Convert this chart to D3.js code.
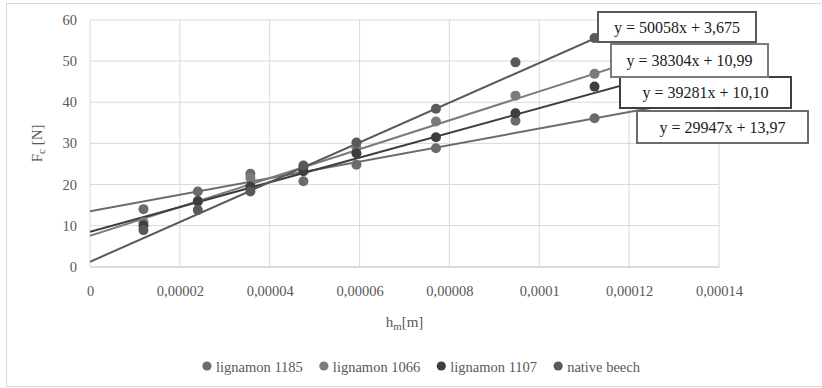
<!DOCTYPE html>
<html>
<head>
<meta charset="utf-8">
<script src="https://cdn.jsdelivr.net/npm/d3@7"></script>
<style>
  body { margin: 0; background: #fff; }
  svg { display: block; font-family: 'Liberation Serif', 'Times New Roman', serif; }
</style>
</head>
<body>
<svg id="chart"></svg>
<script>
'use strict'

// measured points (h_m in m, F_c in N)
const xValues = [0.0000119, 0.000024, 0.0000357, 0.0000475, 0.0000593, 0.000077, 0.0000947, 0.0001123]
const lignamon1185 = [14.0, 18.3, 22.6, 20.8, 24.8, 28.8, 35.5, 36.1]
const lignamon1066 = [10.8, 15.8, 21.6, 24.2, 29.0, 35.3, 41.6, 46.9]
const lignamon1107 = [10.0, 16.0, 19.5, 23.2, 27.6, 31.5, 37.3, 43.8]
const nativeBeech = [8.9, 13.8, 18.3, 24.6, 30.2, 38.4, 49.7, 55.6]

const seriesNames = ['lignamon 1185', 'lignamon 1066', 'lignamon 1107', 'native beech']
const seriesValues = [lignamon1185, lignamon1066, lignamon1107, nativeBeech]
const seriesColors = ['#6b6b6b', '#7b7b7b', '#3e3e3e', '#595959']

// trendlines as drawn: value at x = 0 and at x = 0.0001125
const trendAt0 = [13.5, 7.5, 8.5, 1.2]
const trendAtEnd = [36.1, 47.0, 42.3, 55.6]
const trendEndX = 0.0001125
const forecastTo = 0.00014

const equations = ['y = 29947x + 13,97', 'y = 38304x + 10,99', 'y = 39281x + 10,10', 'y = 50058x + 3,675']

const xTicks = [0, 0.00002, 0.00004, 0.00006, 0.00008, 0.0001, 0.00012, 0.00014]
const yTicks = [0, 10, 20, 30, 40, 50, 60]

const W = 822, H = 388
const plot = { left: 90, right: 719, top: 20, bottom: 266.7 }

const svg = d3.select('#chart').attr('width', W).attr('height', H)

// chart area border
svg.append('rect')
  .attr('x', 6.5).attr('y', 3.5)
  .attr('width', W + 20).attr('height', 383)
  .attr('fill', '#fff').attr('stroke', '#d9d9d9')

const xScale = d3.scaleLinear().domain([0, 0.00014]).range([plot.left, plot.right])
const yScale = d3.scaleLinear().domain([0, 60]).range([plot.bottom, plot.top])

const fmt = d => String(+d.toFixed(5)).replace('.', ',')

// gridlines
svg.append('g')
  .selectAll('line')
  .data(yTicks)
  .join('line')
  .attr('x1', plot.left).attr('x2', plot.right)
  .attr('y1', d => yScale(d)).attr('y2', d => yScale(d))
  .attr('stroke', '#d9d9d9').attr('stroke-width', 1)

svg.append('g')
  .selectAll('line')
  .data(xTicks)
  .join('line')
  .attr('x1', d => xScale(d)).attr('x2', d => xScale(d))
  .attr('y1', plot.top).attr('y2', plot.bottom)
  .attr('stroke', '#d9d9d9').attr('stroke-width', 1)

// axes
const xAxis = svg.append('g')
  .attr('transform', 'translate(0,' + plot.bottom + ')')
  .call(d3.axisBottom(xScale).tickValues(xTicks).tickFormat(fmt).tickSize(0).tickPadding(19))
xAxis.select('.domain').attr('stroke', '#d0d0d0')
xAxis.selectAll('text').attr('font-size', 14.5).attr('fill', '#595959').attr('font-family', 'Liberation Serif')

const yAxis = svg.append('g')
  .attr('transform', 'translate(' + plot.left + ',0)')
  .call(d3.axisLeft(yScale).tickValues(yTicks).tickSize(0).tickPadding(13))
yAxis.select('.domain').remove()
yAxis.selectAll('text').attr('font-size', 14.5).attr('fill', '#595959').attr('font-family', 'Liberation Serif')

// axis titles
const xt = svg.append('text')
  .attr('x', (plot.left + plot.right) / 2).attr('y', 327)
  .attr('text-anchor', 'middle').attr('font-size', 15).attr('fill', '#595959')
xt.append('tspan').text('h')
xt.append('tspan').attr('font-size', 11).attr('dy', 3).text('m')
xt.append('tspan').attr('dy', -3).text('[m]')

const yt = svg.append('text')
  .attr('transform', 'translate(42,' + (plot.top + plot.bottom) / 2 + ') rotate(-90)')
  .attr('text-anchor', 'middle').attr('font-size', 15).attr('fill', '#595959')
yt.append('tspan').text('F')
yt.append('tspan').attr('font-size', 11).attr('dy', 3).text('c')
yt.append('tspan').attr('dy', -3).text(' [N]')

// clip for trendlines
svg.append('clipPath').attr('id', 'plotclip')
  .append('rect')
  .attr('x', plot.left).attr('y', plot.top)
  .attr('width', plot.right - plot.left).attr('height', plot.bottom - plot.top)

const lines = svg.append('g').attr('clip-path', 'url(#plotclip)')
seriesNames.forEach((name, i) => {
  const slope = (trendAtEnd[i] - trendAt0[i]) / trendEndX
  lines.append('line')
    .attr('x1', xScale(0)).attr('y1', yScale(trendAt0[i]))
    .attr('x2', xScale(forecastTo)).attr('y2', yScale(trendAt0[i] + slope * forecastTo))
    .attr('stroke', seriesColors[i]).attr('stroke-width', 2)
})

seriesNames.forEach((name, i) => {
  svg.append('g')
    .selectAll('circle')
    .data(seriesValues[i])
    .join('circle')
    .attr('cx', (d, j) => xScale(xValues[j]))
    .attr('cy', d => yScale(d))
    .attr('r', 5)
    .attr('fill', seriesColors[i])
})

// equation boxes (lower boxes first so the upper ones sit on top)
const boxes = [
  { x: 637, y: 111, w: 171, h: 32 },
  { x: 611, y: 44, w: 157, h: 33 },
  { x: 620, y: 77, w: 171, h: 31 },
  { x: 598, y: 12, w: 158, h: 30 }
]
const boxOrder = [0, 2, 1, 3]
boxOrder.forEach(i => {
  const b = boxes[i]
  svg.append('rect')
    .attr('x', b.x).attr('y', b.y).attr('width', b.w).attr('height', b.h)
    .attr('fill', '#fff').attr('stroke', seriesColors[i]).attr('stroke-width', 2)
  svg.append('text')
    .attr('x', b.x + b.w / 2).attr('y', b.y + b.h / 2 + 5.5)
    .attr('text-anchor', 'middle').attr('font-size', 16).attr('fill', '#1a1a1a')
    .text(equations[i])
})

// legend
const legend = svg.append('g').attr('transform', 'translate(0,367)')
let lx = 202
seriesNames.forEach((name, i) => {
  legend.append('circle').attr('cx', lx + 5).attr('cy', -1).attr('r', 4.6).attr('fill', seriesColors[i])
  const t = legend.append('text')
    .attr('x', lx + 14).attr('y', 4.5)
    .attr('font-size', 14.5).attr('fill', '#595959')
    .text(name)
  lx += 14 + t.node().getComputedTextLength() + 16
})
</script>
</body>
</html>
